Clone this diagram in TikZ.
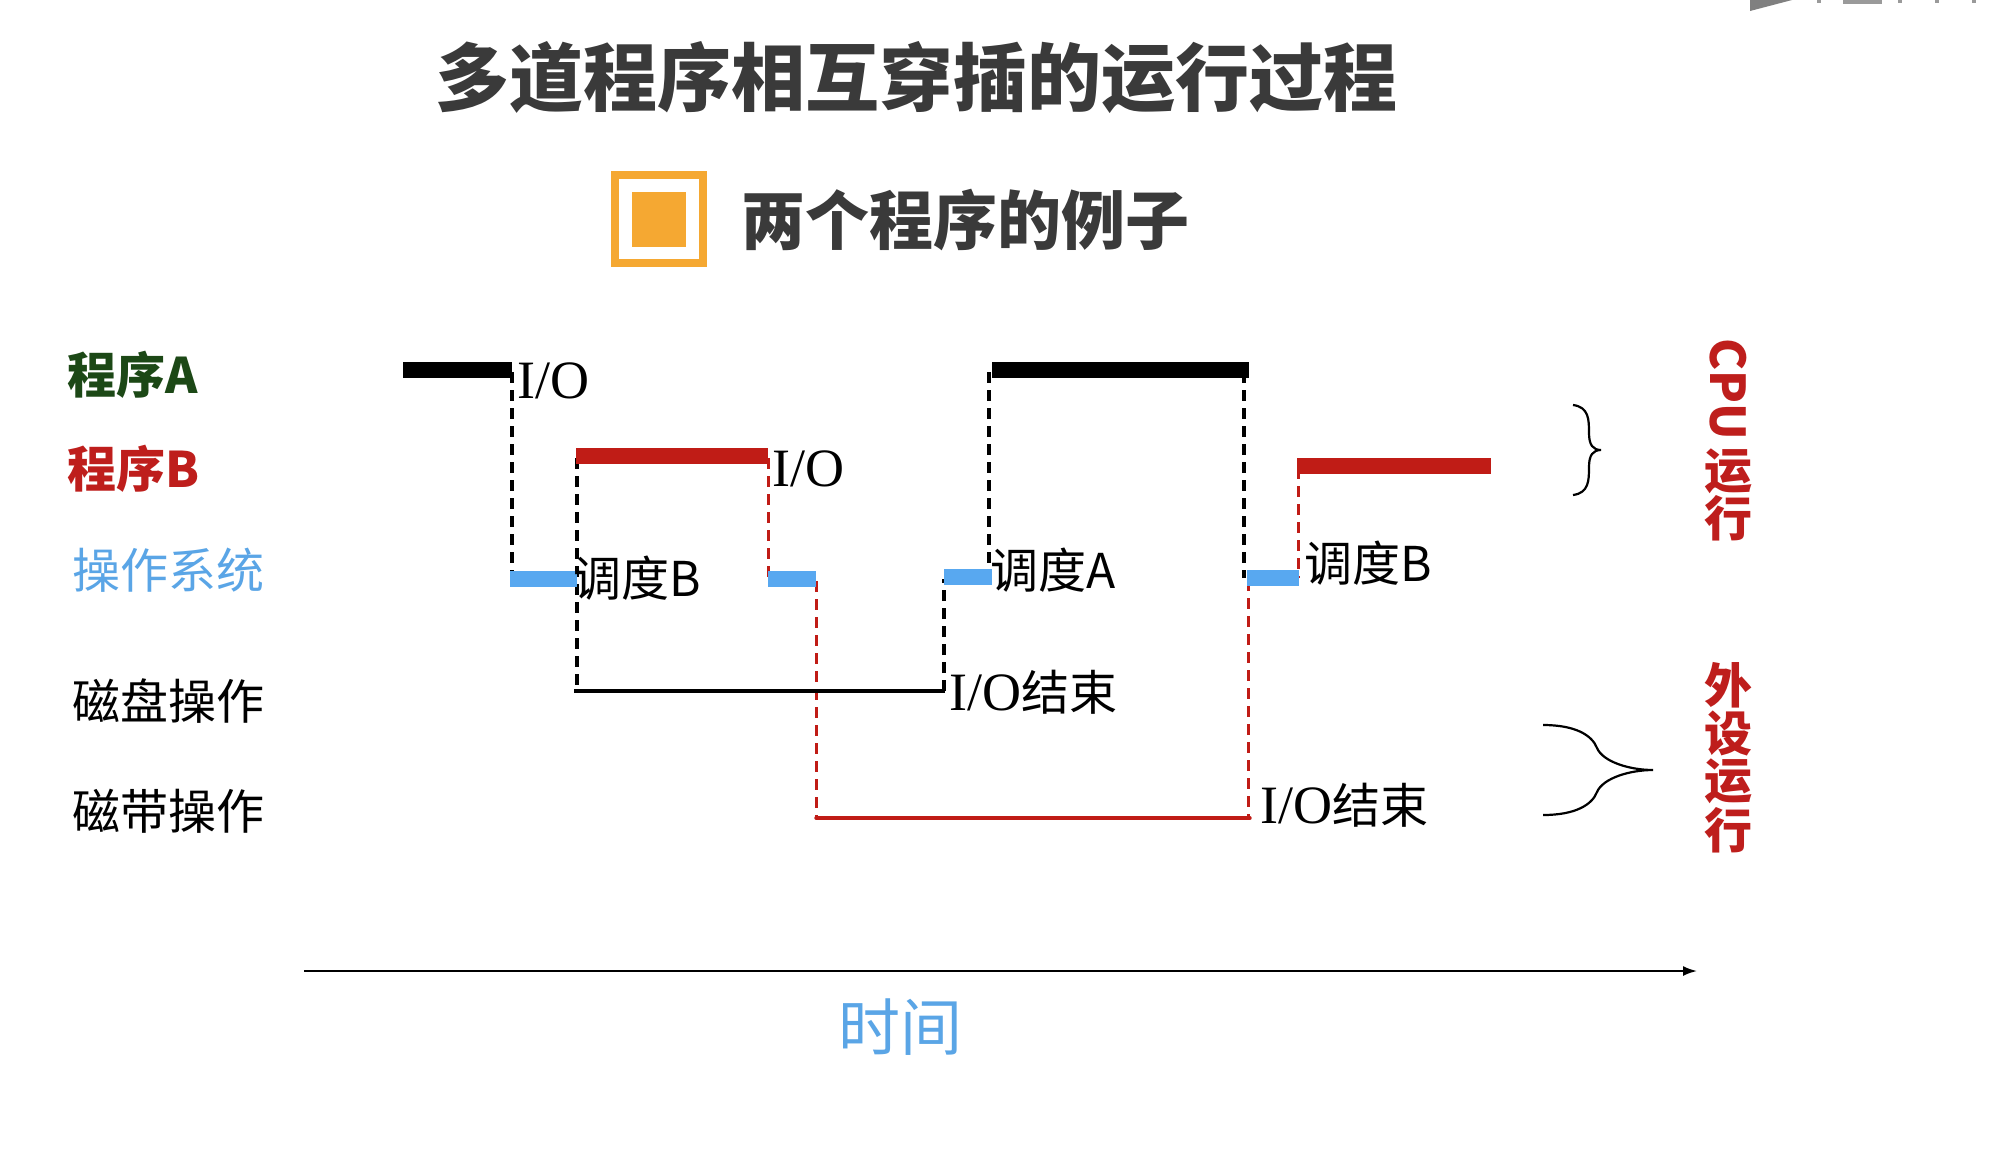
\documentclass[tikz,border=0pt]{standalone}
\usepackage{fontspec}
\setmainfont{Liberation Serif}
\newfontfamily\cjk{Noto Sans CJK SC}
\usetikzlibrary{arrows.meta}
\definecolor{progA}{RGB}{28,72,22}
\definecolor{progB}{RGB}{190,30,28}
\definecolor{barred}{RGB}{192,28,22}
\definecolor{osblue}{RGB}{88,168,240}
\definecolor{txtblue}{RGB}{90,165,230}
\definecolor{titlegray}{RGB}{58,58,58}
\definecolor{orng}{RGB}{245,168,50}
\definecolor{logogray}{RGB}{128,128,128}
\begin{document}
\begin{tikzpicture}[x=0.5pt,y=-0.5pt,
  bar/.style={line width=8pt},
  abar/.style={bar,black},
  bbar/.style={bar,barred},
  osbar/.style={bar,osblue},
  blkdash/.style={line width=1.7pt,black,dash pattern=on 5.5pt off 3.5pt},
  reddash/.style={line width=1.5pt,barred,dash pattern=on 5.5pt off 3.5pt},
  devline/.style={line width=1.7pt},
  lbl/.style={anchor=west,inner sep=0pt,font=\cjk\fontsize{24}{24}\selectfont},
  iotxt/.style={anchor=base west,inner sep=0pt,font=\fontsize{27}{27}\selectfont},
  brace/.style={line width=1.1pt,black},
  vert/.style={inner sep=0pt,text=progB,font=\cjk\bfseries\fontsize{24}{24}\selectfont}]
\useasboundingbox (0,0) rectangle (2004,1148);
\fill[white] (0,0) rectangle (2004,1148);
% logo fragment
\fill[logogray] (1750,0) -- (1792,0) -- (1750,11) -- cycle;
\fill[logogray!80] (1817,0) rectangle (1821,3);
\fill[logogray!80] (1843,0) rectangle (1882,4);
\fill[logogray!80] (1898,0) rectangle (1902,3);
\fill[logogray!80] (1935,0) rectangle (1939,3);
\fill[logogray!80] (1972,0) rectangle (1976,3);
% titles
\node[inner sep=0pt,text=titlegray,font=\cjk\bfseries\fontsize{37}{37}\selectfont] (title) at (916,78) {多道程序相互穿插的运行过程};
\draw[orng,line width=4pt] (615,175) rectangle (703,263);
\fill[orng] (632,192) rectangle (686,247);
\node[anchor=west,inner sep=0pt,text=titlegray,font=\cjk\bfseries\fontsize{32}{32}\selectfont] (sub) at (741,220) {两个程序的例子};
% row labels
\node[lbl,text=progA,font=\cjk\bfseries\fontsize{24.5}{24.5}\selectfont] (lA) at (67,375) {程序A};
\node[lbl,text=progB,font=\cjk\bfseries\fontsize{24.5}{24.5}\selectfont] (lB) at (67,469) {程序B};
\node[lbl,text=txtblue] (lOS) at (72,570) {操作系统};
\node[lbl] (lDisk) at (72,701) {磁盘操作};
\node[lbl] (lTape) at (72,811) {磁带操作};
% coordinates
\coordinate (a1s) at (403,370); \coordinate (a1e) at (512,370);
\coordinate (o1s) at (510,579); \coordinate (o1e) at (577,579);
\coordinate (b1s) at (576,456); \coordinate (b1e) at (768,456);
\coordinate (o2s) at (768,579); \coordinate (o2e) at (816,579);
\coordinate (o3s) at (944,577); \coordinate (o3e) at (992,577);
\coordinate (a2s) at (992,370); \coordinate (a2e) at (1249,370);
\coordinate (o4s) at (1247,578); \coordinate (o4e) at (1299,578);
\coordinate (b2s) at (1297,466); \coordinate (b2e) at (1491,466);
\coordinate (d1) at (577,691); \coordinate (d2) at (945,691);
\coordinate (t1) at (816,818); \coordinate (t2) at (1250,818);
% dashed connectors
\draw[blkdash] (512,372) -- (512,579);
\draw[blkdash] (577,458) -- (d1);
\draw[reddash] (768,458) -- (768,579);
\draw[reddash] (816,581) -- (t1);
\draw[blkdash] (944,691) -- (944,579);
\draw[blkdash] (989,372) -- (989,577);
\draw[blkdash] (1244,372) -- (1244,578);
\draw[reddash] (1248,580) -- (1248,818);
\draw[reddash] (1298,468) -- (1298,578);
% device lines
\draw[devline] (574,691) -- (d2);
\draw[devline,barred,line cap=round] (t1) -- (t2);
% bars
\draw[abar] (a1s) -- (a1e);
\draw[osbar] (o1s) -- (o1e);
\draw[bbar] (b1s) -- (b1e);
\draw[osbar] (o2s) -- (o2e);
\draw[osbar] (o3s) -- (o3e);
\draw[abar] (a2s) -- (a2e);
\draw[osbar] (o4s) -- (o4e);
\draw[bbar] (b2s) -- (b2e);
% event labels
\node[iotxt] (io1) at (517,398) {I/O};
\node[iotxt] (io2) at (772,486) {I/O};
\node[lbl] (sB1) at (573,578) {调度B};
\node[lbl] (sA) at (990,570) {调度A};
\node[lbl] (sB2) at (1304,563) {调度B};
\node[lbl] (end1) at (949,692) {{\rmfamily\fontsize{27}{27}\selectfont I/O}结束};
\node[lbl] (end2) at (1260,805) {{\rmfamily\fontsize{27}{27}\selectfont I/O}结束};
% braces
\draw[brace] (1573,405) .. controls (1589,407) and (1589,420) .. (1589,433)
  .. controls (1589,445) and (1593,450) .. (1601,450)
  .. controls (1593,450) and (1589,455) .. (1589,467)
  .. controls (1589,480) and (1589,493) .. (1573,495);
\draw[brace] (1543,725) .. controls (1575,725) and (1592,735) .. (1597,748)
  .. controls (1603,762) and (1630,770) .. (1653,770)
  .. controls (1630,770) and (1603,778) .. (1597,792)
  .. controls (1592,805) and (1575,815) .. (1543,815);
% vertical labels
\node[vert,rotate=-90] (cpu) at (1728,389) {CPU};
\node[vert] (cpu2) at (1728,471) {运};
\node[vert] (cpu3) at (1728,518) {行};
\node[vert] (p1) at (1728,685) {外};
\node[vert] (p2) at (1728,733) {设};
\node[vert] (p3) at (1728,781) {运};
\node[vert] (p4) at (1728,830) {行};
% time axis
\coordinate (ax1) at (304,971); \coordinate (ax2) at (1697,971);
\draw[line width=1pt,-{Latex[length=7pt,width=5pt]}] (ax1) -- (ax2);
\node[inner sep=0pt,text=txtblue,font=\cjk\fontsize{31}{31}\selectfont] (time) at (900,1027) {时间};
\end{tikzpicture}
\end{document}
